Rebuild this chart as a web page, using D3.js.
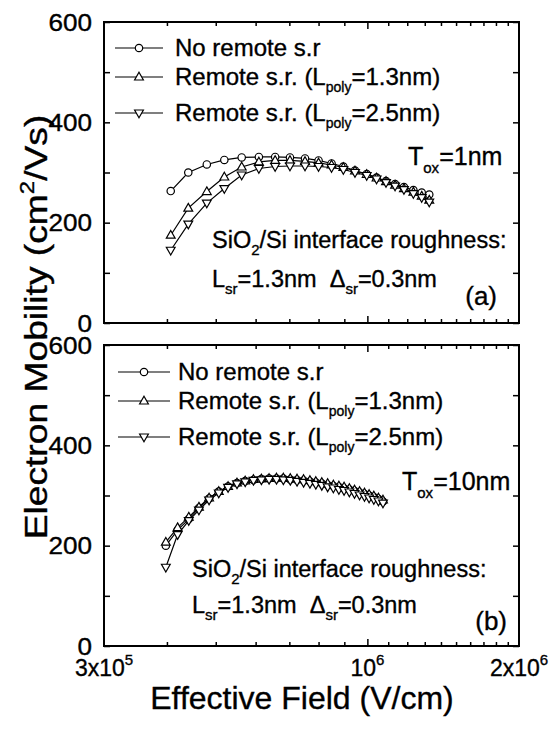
<!DOCTYPE html>
<html><head><meta charset="utf-8">
<script src="https://cdn.jsdelivr.net/npm/d3@7"></script>
<style>
html,body{margin:0;padding:0;background:#fff;}
svg{display:block;font-family:"Liberation Sans",Arial,sans-serif;}
svg text{fill:#000;stroke:#000;stroke-width:0.35px;}
</style></head>
<body><svg id="c" width="558" height="729"></svg>
<script>
// ---------- DATA ----------
// Panel (a): T_ox = 1 nm
const fieldA = [4.07e5,4.41e5,4.80e5,5.20e5,5.63e5,6.09e5,6.56e5,7.02e5,7.52e5,8.00e5,8.49e5,8.96e5,9.45e5,9.97e5,1.043e6,1.089e6,1.135e6,1.182e6,1.234e6,1.282e6,1.327e6];
const noRemoteA = [263,300,316,325,330,331,331,330,328,324,318,312,304,297,290,283,277,271,265,260,256];
const remote13A = [175,229,262,291,311,321,324,324,322,319,315,310,303,296,289,282,275,268,261,253,245];
const remote25A = [145,197,239,268,295,308,312,313,313,312,310,306,300,294,287,280,273,266,258,250,241];
// Panel (b): T_ox = 10 nm
const fieldB = [3.98e5,4.20e5,4.42e5,4.63e5,4.85e5,5.07e5,5.29e5,5.51e5,5.72e5,5.94e5,6.16e5,6.38e5,6.60e5,6.81e5,7.03e5,7.25e5,7.47e5,7.69e5,7.90e5,8.12e5,8.34e5,8.56e5,8.78e5,8.99e5,9.21e5,9.43e5,9.65e5,9.87e5,1.008e6,1.030e6,1.052e6,1.074e6];
const noRemoteB = [200,231,253,275,294,308,318,325,329,331,333,334,334,334,332,331,330,328,326,324,321,319,317,314,312,309,306,303,300,297,293,288];
const remote13B = [207,236,257,277,295,308,318,325,329,332,333,334,335,335,334,333,332,330,328,326,324,321,319,317,314,311,308,305,302,299,295,291];
const remote25B = [157,222,250,271,291,305,316,323,327,330,331,332,332,331,330,328,326,324,322,320,317,315,312,310,307,304,301,298,295,292,289,285];

const legendLabels = ["No remote s.r", "Remote s.r. (L", "Remote s.r. (L"];
const legendSub = ["", "poly", "poly"];
const legendTail = ["", "=1.3nm)", "=2.5nm)"];
const markerKinds = ["circle", "up", "down"];

const yTickLabelValues = [0, 200, 400, 600];
const yMinorTickValues = [0, 100, 200, 300, 400, 500, 600];
const xTickValues = [3e5, 1e6, 2e6];
const xTickBase = ["3x10", "10", "2x10"];
const xTickExp = ["5", "6", "6"];
const xMinorTickValues = [4e5,5e5,6e5,7e5,8e5,9e5,1.1e6,1.2e6,1.3e6,1.4e6,1.5e6,1.6e6,1.7e6,1.8e6,1.9e6];
const panelTox = ["1nm", "10nm"];
const panelTag = ["(a)", "(b)"];

// ---------- LAYOUT ----------
const svg = d3.select("#c");
const X0 = 104, X1 = 519;
const x = d3.scaleLog().domain([3e5, 2e6]).range([X0, X1]);
const panels = [
  {top: 22, bottom: 323, field: fieldA, series: [noRemoteA, remote13A, remote25A],
   legY: [48, 77, 113], legX: [115, 163], legText: 175,
   tox: [408, 165], rough: [212, 248], lsr: [212, 287], tag: [497, 305]},
  {top: 345, bottom: 646, field: fieldB, series: [noRemoteB, remote13B, remote25B],
   legY: [372, 401, 437], legX: [118, 170], legText: 178,
   tox: [402, 490], rough: [192, 577], lsr: [192, 613], tag: [507, 630]}
];

function marker(g, kind, cx, cy) {
  if (kind === "circle") {
    g.append("circle").attr("cx", cx).attr("cy", cy).attr("r", 3.7)
      .attr("fill", "#fff").attr("stroke", "#000").attr("stroke-width", 1.2);
  } else {
    const s = kind === "up" ? 1 : -1;
    const p = d3.path();
    p.moveTo(cx, cy - 4.7 * s); p.lineTo(cx + 4.4, cy + 3.0 * s); p.lineTo(cx - 4.4, cy + 3.0 * s); p.closePath();
    g.append("path").attr("d", p.toString()).attr("fill", "#fff").attr("stroke", "#000").attr("stroke-width", 1.2);
  }
}

panels.forEach((P, pi) => {
  const y = d3.scaleLinear().domain([0, 600]).range([P.bottom, P.top]);
  const g = svg.append("g");

  // series
  P.series.forEach((vals, si) => {
    const pts = P.field.map((f, i) => [x(f), y(vals[i])]);
    g.append("path").attr("d", d3.line()(pts)).attr("fill", "none")
      .attr("stroke", "#000").attr("stroke-width", 1.2);
  });
  P.series.forEach((vals, si) => {
    P.field.forEach((f, i) => marker(g, markerKinds[si], x(f), y(vals[i])));
  });

  // axes ticks (inward)
  const tickStyle = sel => { sel.select(".domain").remove(); sel.selectAll("line").attr("stroke", "#000").attr("stroke-width", 1.5); sel.selectAll("text").remove(); };
  g.append("g").attr("transform", `translate(0,${P.bottom})`)
    .call(d3.axisBottom(x).tickValues(xMinorTickValues).tickSize(-4)).call(tickStyle);
  g.append("g").attr("transform", `translate(0,${P.bottom})`)
    .call(d3.axisBottom(x).tickValues([1e6]).tickSize(-7)).call(tickStyle);
  g.append("g").attr("transform", `translate(0,${P.top})`)
    .call(d3.axisTop(x).tickValues(xMinorTickValues).tickSize(-4)).call(tickStyle);
  g.append("g").attr("transform", `translate(0,${P.top})`)
    .call(d3.axisTop(x).tickValues([1e6]).tickSize(-7)).call(tickStyle);
  g.append("g").attr("transform", `translate(${X0},0)`)
    .call(d3.axisLeft(y).tickValues(yMinorTickValues).tickSize(-6)).call(tickStyle);
  g.append("g").attr("transform", `translate(${X1},0)`)
    .call(d3.axisRight(y).tickValues(yMinorTickValues).tickSize(-6)).call(tickStyle);

  // y tick labels
  const yl = g.append("g").attr("transform", `translate(${X0},0)`)
    .call(d3.axisLeft(y).tickValues(yTickLabelValues).tickSize(0).tickPadding(12));
  yl.select(".domain").remove();
  yl.selectAll("text").attr("font-size", 23).attr("fill", "#000")
    .attr("font-family", "'Liberation Sans',Arial,sans-serif").attr("dy", "0.36em")
    .attr("textLength", d => String(d).length * 14.5).attr("lengthAdjust", "spacingAndGlyphs");

  // frame
  g.append("rect").attr("x", X0).attr("y", P.top).attr("width", X1 - X0).attr("height", P.bottom - P.top)
    .attr("fill", "none").attr("stroke", "#000").attr("stroke-width", 2);

  // legend
  const lg = g.append("g");
  markerKinds.forEach((k, i) => {
    const ly = P.legY[i];
    lg.append("line").attr("x1", P.legX[0]).attr("x2", P.legX[1]).attr("y1", ly).attr("y2", ly)
      .attr("stroke", "#000").attr("stroke-width", 1.2);
    marker(lg, k, (P.legX[0] + P.legX[1]) / 2, ly);
    const t = lg.append("text").attr("x", P.legText).attr("y", ly + 8).attr("font-size", 24);
    t.append("tspan").text(legendLabels[i]);
    if (legendSub[i]) {
      t.append("tspan").attr("font-size", 14).attr("dy", 7).text(legendSub[i]);
      t.append("tspan").attr("dy", -7).text(legendTail[i]);
    }
  });

  // annotations
  const tt = g.append("text").attr("x", P.tox[0]).attr("y", P.tox[1]).attr("font-size", 25);
  tt.append("tspan").text("T");
  tt.append("tspan").attr("font-size", 15).attr("dy", 8).text("ox");
  tt.append("tspan").attr("dy", -8).text("=" + panelTox[pi]);

  const rt = g.append("text").attr("x", P.rough[0]).attr("y", P.rough[1]).attr("font-size", 23.5);
  rt.append("tspan").text("SiO");
  rt.append("tspan").attr("font-size", 15).attr("dy", 7).text("2");
  rt.append("tspan").attr("dy", -7).text("/Si interface roughness:");

  const lt = g.append("text").attr("x", P.lsr[0]).attr("y", P.lsr[1]).attr("font-size", 23.5);
  lt.append("tspan").text("L");
  lt.append("tspan").attr("font-size", 15).attr("dy", 7).text("sr");
  lt.append("tspan").attr("dy", -7).text("=1.3nm\u00a0\u00a0\u0394");
  lt.append("tspan").attr("font-size", 15).attr("dy", 7).text("sr");
  lt.append("tspan").attr("dy", -7).text("=0.3nm");

  g.append("text").attr("x", P.tag[0]).attr("y", P.tag[1]).attr("font-size", 26)
    .attr("text-anchor", "end").text(panelTag[pi]);
});

// x tick labels (bottom panel)
xTickValues.forEach((v, i) => {
  const t = svg.append("text").attr("x", x(v)).attr("y", 676).attr("font-size", 23).attr("text-anchor", "middle");
  t.append("tspan").text(xTickBase[i]);
  t.append("tspan").attr("font-size", 15).attr("dy", -11).text(xTickExp[i]);
});

// axis titles
svg.append("text").attr("x", 302).attr("y", 709).attr("font-size", 32).attr("text-anchor", "middle")
  .text("Effective Field (V/cm)");
const yt = svg.append("text").attr("transform", "translate(47,327) rotate(-90) scale(1.2,1)")
  .attr("font-size", 31).attr("text-anchor", "middle");
yt.append("tspan").text("Electron Mobility (cm");
yt.append("tspan").attr("font-size", 20).attr("dy", -13).text("2");
yt.append("tspan").attr("dy", 13).text("/Vs)");
</script></body></html>
